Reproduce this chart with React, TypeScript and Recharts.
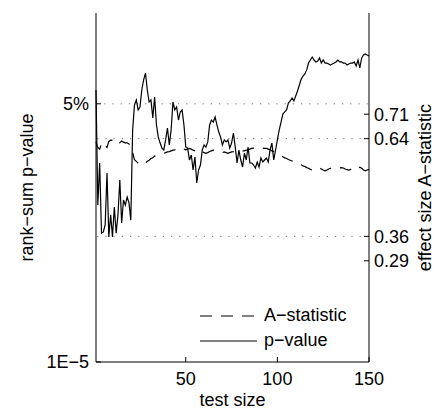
import { ComposedChart, Line, XAxis, YAxis, ReferenceLine, Legend } from 'recharts';

// test size runs 1..150
const testSizes = Array.from({ length: 150 }, (_, i) => i + 1);

// rank-sum p-value per test size (left, log axis)
const pValues = [
  0.0789, 0.00177, 0.0071, 0.0007, 0.00073, 0.00092, 0.0051, 0.00062, 0.00128, 0.00062,
  0.00166, 0.0007, 0.00128, 0.00405, 0.00098, 0.00209, 0.00177, 0.00231, 0.0019, 0.00108,
  0.0211, 0.0481, 0.0567, 0.0408, 0.045, 0.0789, 0.11, 0.138, 0.0789, 0.0531,
  0.0567, 0.0313, 0.0626, 0.0249, 0.0167, 0.0137, 0.0116, 0.0109, 0.0152, 0.0225,
  0.0129, 0.0211, 0.0531, 0.0408, 0.045, 0.0293, 0.0382, 0.0408, 0.0249, 0.012,
  0.0116, 0.00783, 0.00924, 0.00563, 0.00865, 0.00367, 0.00563, 0.00664, 0.0109, 0.0129,
  0.012, 0.0142, 0.0249, 0.0293, 0.0274, 0.0324, 0.0249, 0.0197, 0.0167, 0.0129,
  0.0152, 0.0142, 0.0152, 0.0116, 0.0137, 0.0191, 0.012, 0.0071, 0.0109, 0.00783,
  0.00622, 0.00987, 0.00783, 0.012, 0.0071, 0.0071, 0.00664, 0.00602, 0.00733, 0.00622,
  0.00837, 0.00733, 0.00783, 0.00837, 0.00733, 0.0109, 0.0137, 0.00783, 0.0109, 0.0152,
  0.0211, 0.0274, 0.0357, 0.0382, 0.0408, 0.0514, 0.0549, 0.0606, 0.0549, 0.0647,
  0.0763, 0.0929, 0.113, 0.125, 0.134, 0.153, 0.192, 0.212, 0.234, 0.212,
  0.199, 0.205, 0.227, 0.192, 0.212, 0.192, 0.192, 0.186, 0.18, 0.186,
  0.192, 0.199, 0.212, 0.199, 0.199, 0.192, 0.192, 0.18, 0.186, 0.192,
  0.192, 0.199, 0.174, 0.212, 0.163, 0.227, 0.25, 0.259, 0.25, 0.242,
];

// effect size A-statistic per test size (right, linear axis)
const aStatistic = [
  0.63, 0.615, 0.61, 0.625, 0.63, 0.62, 0.615, 0.632, 0.636, 0.635,
  0.64, 0.638, 0.632, 0.628, 0.633, 0.63, 0.628, 0.628, 0.625, 0.618,
  0.6, 0.58, 0.575, 0.57, 0.568, 0.565, 0.565, 0.57, 0.575, 0.578,
  0.583, 0.585, 0.59, 0.592, 0.593, 0.595, 0.597, 0.598, 0.6, 0.602,
  0.603, 0.605, 0.607, 0.608, 0.61, 0.61, 0.612, 0.613, 0.61, 0.608,
  0.61, 0.612, 0.61, 0.607, 0.605, 0.6, 0.598, 0.6, 0.602, 0.6,
  0.598, 0.6, 0.603, 0.605, 0.607, 0.605, 0.603, 0.602, 0.6, 0.6,
  0.602, 0.6, 0.598, 0.6, 0.602, 0.603, 0.605, 0.607, 0.608, 0.607,
  0.605, 0.605, 0.607, 0.608, 0.61, 0.612, 0.613, 0.613, 0.612, 0.613,
  0.614, 0.613, 0.612, 0.612, 0.61, 0.608, 0.605, 0.603, 0.6, 0.598,
  0.595, 0.592, 0.588, 0.585, 0.583, 0.58, 0.578, 0.576, 0.574, 0.572,
  0.57, 0.567, 0.565, 0.562, 0.56, 0.557, 0.555, 0.552, 0.55, 0.55,
  0.552, 0.555, 0.556, 0.553, 0.55, 0.548, 0.55, 0.553, 0.555, 0.556,
  0.556, 0.555, 0.554, 0.556, 0.557, 0.556, 0.553, 0.551, 0.55, 0.552,
  0.555, 0.557, 0.556, 0.553, 0.558, 0.555, 0.55, 0.548, 0.55, 0.552,
];

const xTicks = [50, 100, 150];
const pTicks = [1e-5, 0.05];
const aTicks = [0.29, 0.36, 0.64, 0.71];
const pThreshold = 0.05;
const aThresholds = [0.36, 0.64];

const A_NAME = 'A−statistic';
const P_NAME = 'p−value';
const A_DASH = '12 9';

const chartData = testSizes.map((n, i) => ({ n, p: pValues[i], a: aStatistic[i] }));

const FONT = "'Liberation Sans', Arial, Helvetica, sans-serif";
const tickStyle = { fontSize: 18, fill: '#000' };
const axisStroke = { stroke: '#000', strokeWidth: 1 };

const formatP = (v: number) => (v === 0.05 ? '5%' : '1E−5');
const formatA = (v: number) => v.toFixed(2);

function LegendBox({ payload }: { payload?: any[] }) {
  return (
    <div style={{ fontSize: 18, color: '#000', fontFamily: FONT }}>
      {(payload || []).map((entry: any) => (
        <div key={entry.value} style={{ display: 'flex', alignItems: 'center', height: 25 }}>
          <svg width={57} height={10} style={{ marginRight: 7 }}>
            <line
              x1={0}
              y1={5}
              x2={57}
              y2={5}
              stroke="#000"
              strokeWidth={1.2}
              strokeDasharray={entry.value === A_NAME ? A_DASH : undefined}
            />
          </svg>
          <span>{entry.value}</span>
        </div>
      ))}
    </div>
  );
}

export default function App() {
  return (
    <div
      style={{
        position: 'absolute',
        left: 0,
        top: 0,
        width: 440,
        height: 412,
        background: '#fff',
        fontFamily: FONT,
      }}
    >
      <ComposedChart
        width={440}
        height={412}
        data={chartData}
        margin={{ top: 13, right: 0, bottom: 0, left: 0 }}
      >
        <XAxis
          dataKey="n"
          type="number"
          domain={[1, 150]}
          ticks={xTicks}
          interval={0}
          height={50}
          tickSize={-5}
          tickMargin={15}
          tick={tickStyle}
          tickLine={axisStroke}
          axisLine={axisStroke}
          label={{ value: 'test size', position: 'insideBottom', offset: 6, fill: '#000', fontSize: 18 }}
        />
        <YAxis
          yAxisId="left"
          scale="log"
          domain={[1e-5, 1]}
          allowDataOverflow
          ticks={pTicks}
          interval={0}
          width={96}
          tickSize={-5}
          tickMargin={12}
          tickFormatter={formatP}
          tick={tickStyle}
          tickLine={axisStroke}
          axisLine={axisStroke}
          label={{
            value: 'rank−sum p−value',
            angle: -90,
            position: 'insideLeft',
            offset: 27,
            fill: '#000',
            fontSize: 18,
            style: { textAnchor: 'middle' },
          }}
        />
        <YAxis
          yAxisId="right"
          orientation="right"
          domain={[0, 1]}
          ticks={aTicks}
          interval={0}
          width={71}
          tickSize={-5}
          tickMargin={10}
          tickFormatter={formatA}
          tick={tickStyle}
          tickLine={axisStroke}
          axisLine={axisStroke}
          label={{
            value: 'effect size A−statistic',
            angle: -90,
            position: 'insideRight',
            offset: 15,
            fill: '#000',
            fontSize: 18,
            style: { textAnchor: 'middle' },
          }}
        />

        {/* dotted significance / effect-size guides */}
        <ReferenceLine yAxisId="left" y={pThreshold} stroke="#777" strokeDasharray="1.2 7" />
        {aThresholds.map((v) => (
          <ReferenceLine key={v} yAxisId="right" y={v} stroke="#777" strokeDasharray="1.2 7" />
        ))}

        <Legend
          layout="horizontal"
          verticalAlign="middle"
          align="center"
          content={(props: any) => <LegendBox payload={props.payload} />}
          wrapperStyle={{ left: 200, top: 303, width: 170, height: 50 }}
        />

        <Line
          yAxisId="right"
          type="linear"
          dataKey="a"
          name={A_NAME}
          stroke="#000"
          strokeWidth={1.2}
          strokeDasharray={A_DASH}
          dot={false}
          activeDot={false}
          isAnimationActive={false}
        />
        <Line
          yAxisId="left"
          type="linear"
          dataKey="p"
          name={P_NAME}
          stroke="#000"
          strokeWidth={1.2}
          dot={false}
          activeDot={false}
          isAnimationActive={false}
        />
      </ComposedChart>
    </div>
  );
}
